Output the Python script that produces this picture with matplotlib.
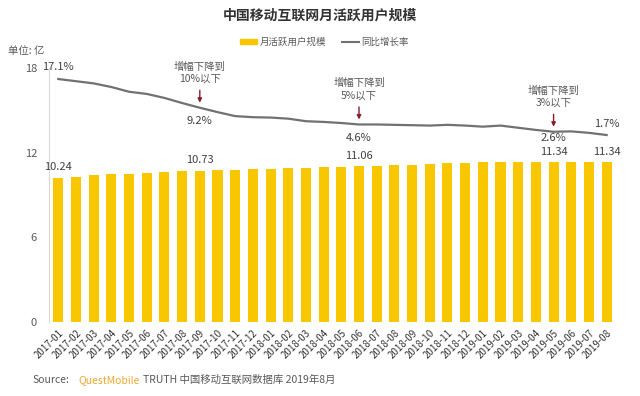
import numpy as np
import matplotlib
matplotlib.use("Agg")
import matplotlib.pyplot as plt
from matplotlib.patches import Patch
from matplotlib.lines import Line2D

plt.rcParams['font.family'] = ['Noto Sans CJK SC', 'DejaVu Sans']

months = ['2017-01', '2017-02', '2017-03', '2017-04', '2017-05', '2017-06', '2017-07', '2017-08',
          '2017-09', '2017-10', '2017-11', '2017-12', '2018-01', '2018-02', '2018-03', '2018-04',
          '2018-05', '2018-06', '2018-07', '2018-08', '2018-09', '2018-10', '2018-11', '2018-12',
          '2019-01', '2019-02', '2019-03', '2019-04', '2019-05', '2019-06', '2019-07', '2019-08']
# monthly active users (100 million)
mau = [10.24, 10.31, 10.40, 10.47, 10.52, 10.59, 10.66, 10.68,
       10.73, 10.78, 10.78, 10.86, 10.86, 10.91, 10.95, 10.97,
       11.02, 11.06, 11.06, 11.12, 11.14, 11.20, 11.25, 11.27,
       11.31, 11.34, 11.34, 11.31, 11.34, 11.34, 11.32, 11.34]
# year-on-year growth (%)
growth = [17.1, 16.5, 15.9, 14.9, 13.6, 13.0, 11.9, 10.5,
          9.2, 8.0, 6.9, 6.6, 6.5, 6.2, 5.5, 5.3,
          5.0, 4.6, 4.6, 4.5, 4.4, 4.3, 4.5, 4.3,
          4.0, 4.3, 3.7, 3.1, 2.6, 2.7, 2.3, 1.7]

bar_labels = {0: '10.24', 8: '10.73', 17: '11.06', 28: '11.34', 31: '11.34'}
notes = {8: '增幅下降到\n10%以下', 17: '增幅下降到\n5%以下', 28: '增幅下降到\n3%以下'}
# growth labels: index -> vertical offset in points from the line
growth_labels = {0: 9, 8: -9.5, 17: -9.5, 28: -4.3, 31: 8}

bar_color = '#F9C700'
line_color = '#717171'
text_color = '#595959'

fig = plt.figure(figsize=(6.4, 3.96), dpi=100)
ax = fig.add_axes([0.0773, 0.187, 0.8844, 0.641])
x = np.arange(len(months))
ax.bar(x, mau, width=0.57, color=bar_color, zorder=2)
ax.set_xlim(-0.5, 31.5)
ax.set_ylim(0, 18)
ax.set_yticks([0, 6, 12, 18])
ax.tick_params(axis='y', length=0, pad=9, labelsize=8, labelcolor=text_color)
ax.set_xticks(x)
ax.set_xticklabels(months, rotation=45, ha='right', rotation_mode='anchor', fontsize=7, color='#333333')
ax.tick_params(axis='x', length=0, pad=4)
for s in ['top', 'right', 'bottom']:
    ax.spines[s].set_visible(False)
ax.spines['left'].set_color('#D9D9D9')

for i, lab in bar_labels.items():
    ax.annotate(lab, (i, mau[i]), xytext=(0, 7.3), textcoords='offset points',
                ha='center', va='center', fontsize=8, color='#404040')

# growth rate on a hidden second scale
ax2 = ax.twinx()
ax2.set_ylim(-49.7, 20.1)
ax2.axis('off')
ax2.plot(x, growth, color=line_color, lw=1.6, zorder=3)

for i, off in growth_labels.items():
    ax2.annotate(f'{growth[i]}%', (i, growth[i]), xytext=(0, off), textcoords='offset points',
                 ha='center', va='center', fontsize=8, color='#404040')

for i, note in notes.items():
    # small red arrow pointing down at the line
    ax2.annotate('', xy=(i, growth[i]), xytext=(0, 12.6), textcoords='offset points',
                 arrowprops=dict(arrowstyle='-|>', color='#8B1A2B', lw=1, mutation_scale=6,
                                 shrinkA=0, shrinkB=3.6))
    ax2.annotate(note, (i, growth[i]), xytext=(0, 17.3), textcoords='offset points',
                 ha='center', va='bottom', fontsize=7.5, color=text_color, linespacing=1.25)

fig.text(0.5, 0.962, '中国移动互联网月活跃用户规模', ha='center', va='center', fontsize=10,
         fontweight='bold', color='#333333')
handles = [Patch(color=bar_color), Line2D([], [], color=line_color, lw=1.5)]
fig.legend(handles, ['月活跃用户规模', '同比增长率'], loc='center', bbox_to_anchor=(0.507, 0.893),
           ncol=2, frameon=False, fontsize=6.8, handlelength=1.8, handleheight=0.45,
           columnspacing=1.6, handletextpad=0.3, labelcolor=text_color)
fig.text(0.012, 0.872, '单位: 亿', ha='left', va='center', fontsize=7.5, color=text_color)

fig.text(0.05, 0.04, 'Source:', ha='left', va='center', fontsize=7.5, color=text_color)
fig.text(0.122, 0.04, 'QuestMobile', ha='left', va='center', fontsize=7.5, color='#F0A830')
fig.text(0.224, 0.04, 'TRUTH 中国移动互联网数据库 2019年8月', ha='left', va='center', fontsize=7.5,
         color=text_color)

fig.savefig('out.png', dpi=100, facecolor='white')
